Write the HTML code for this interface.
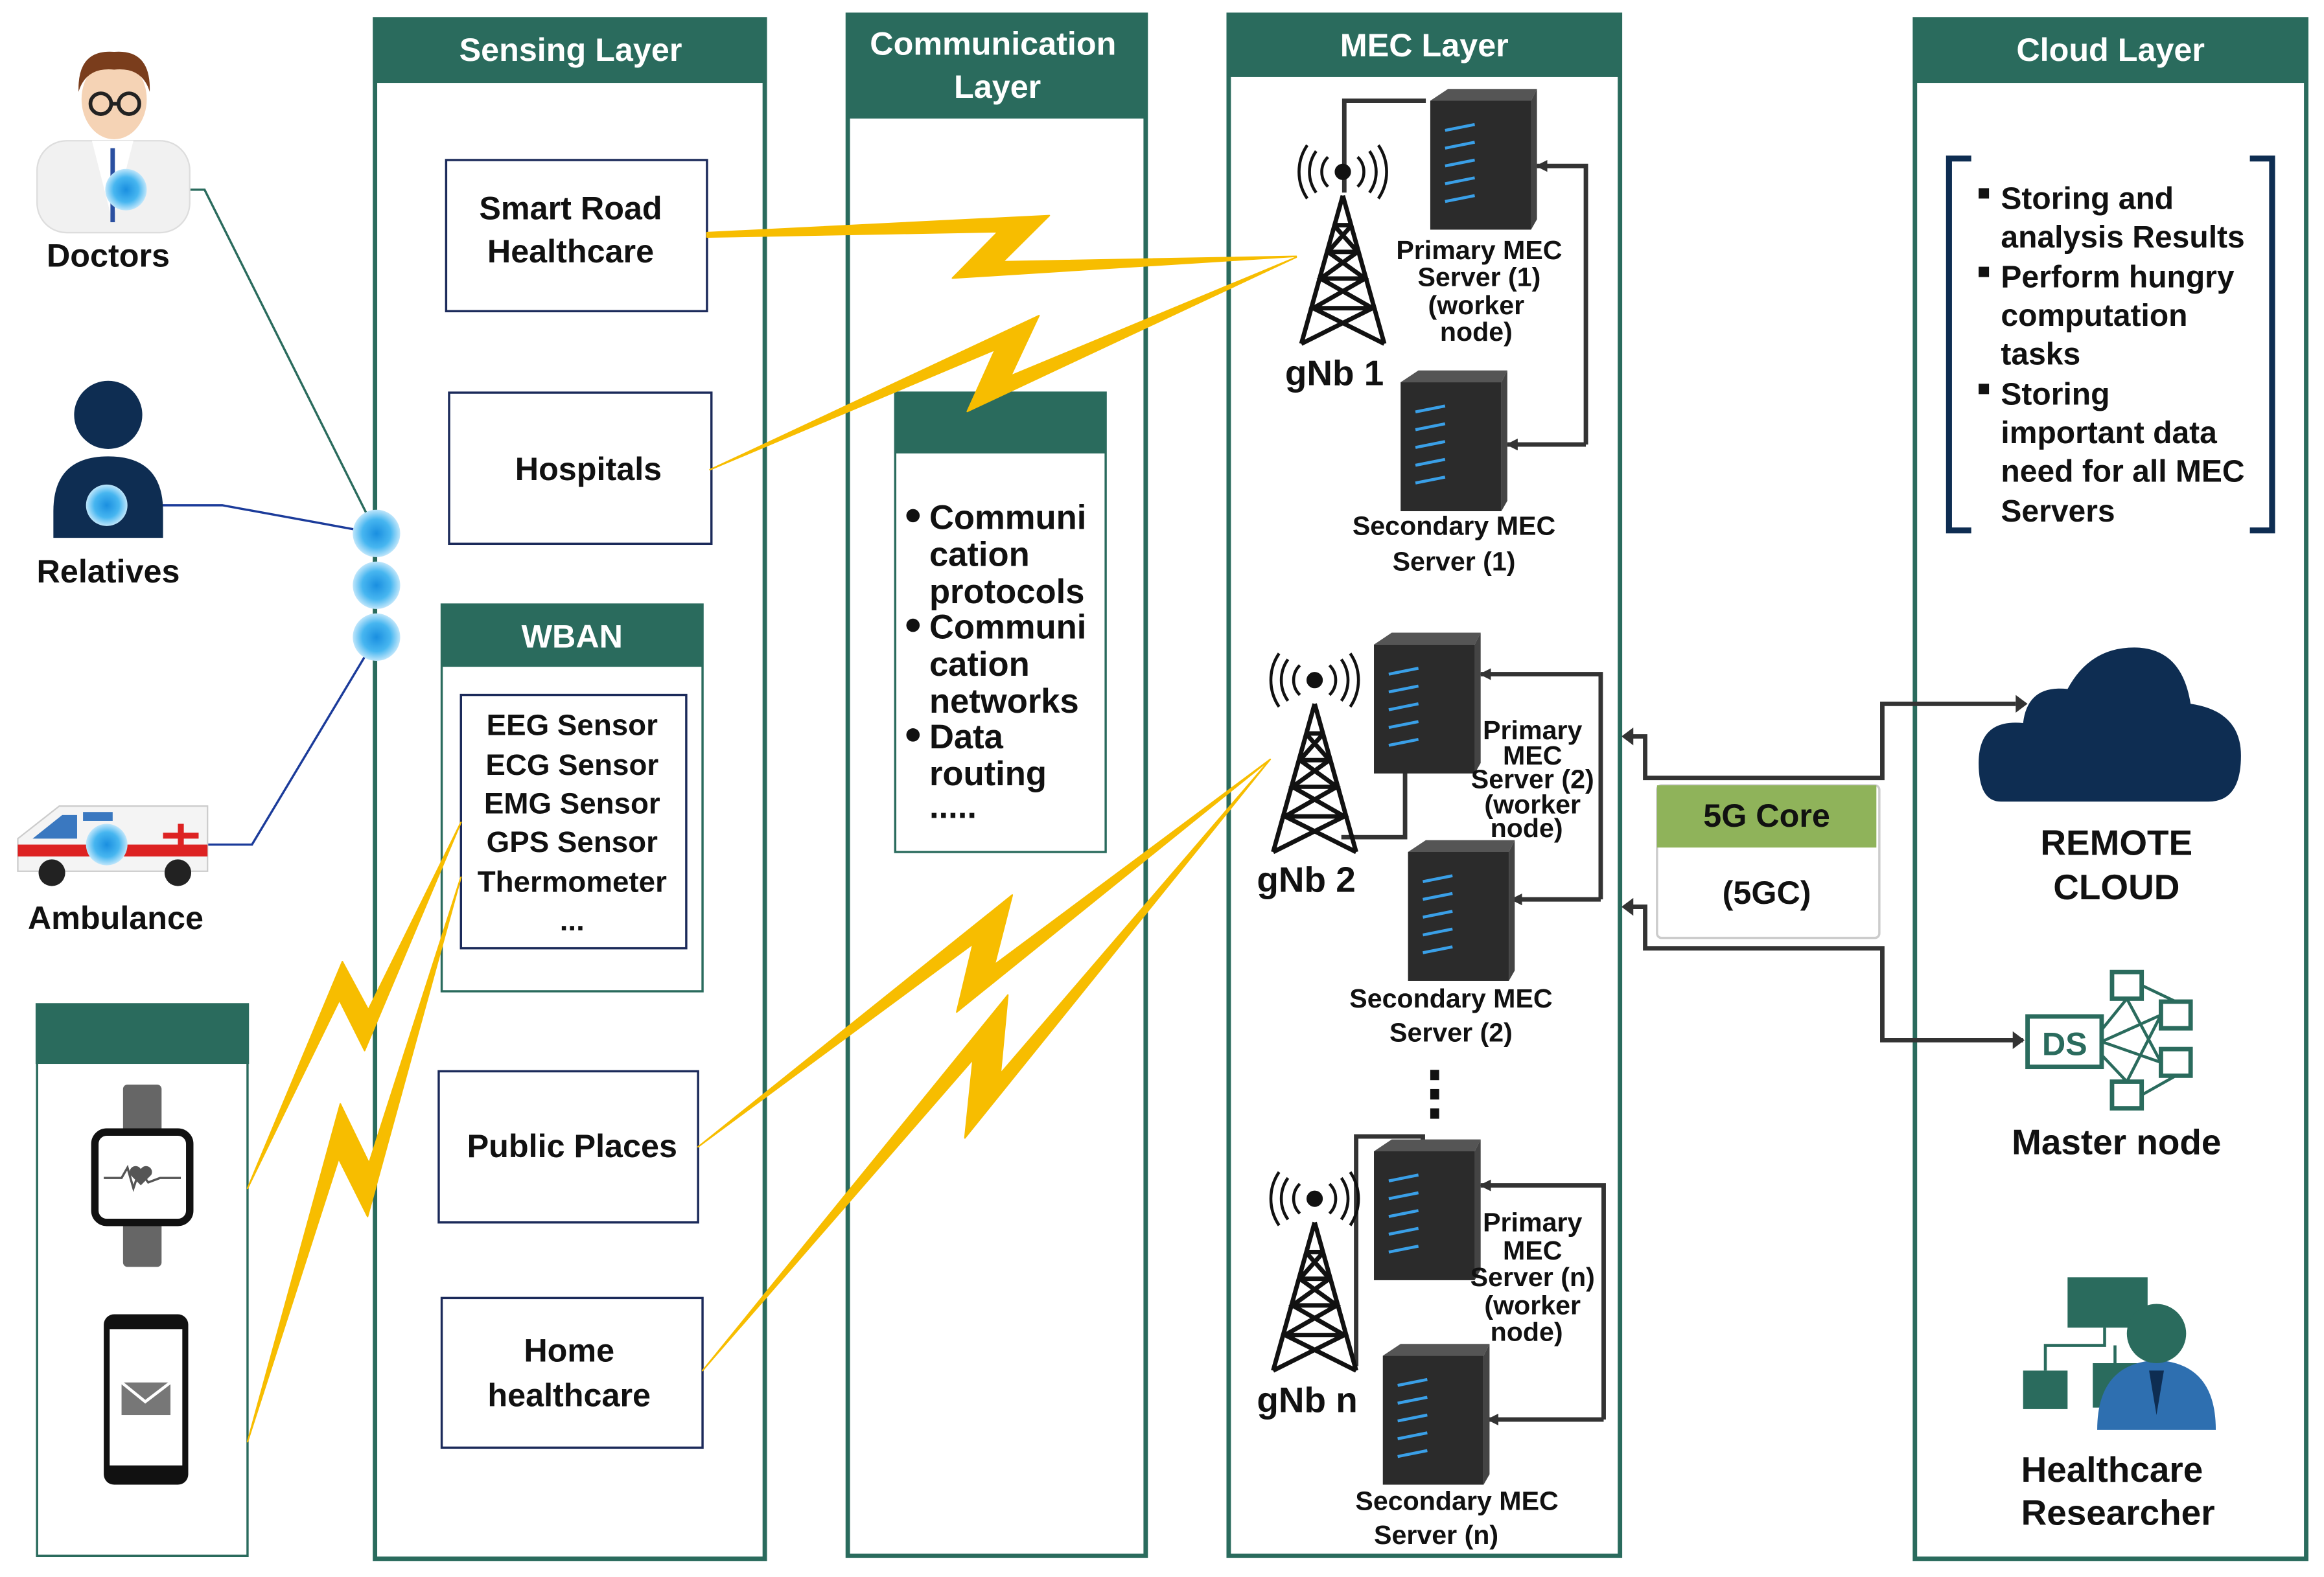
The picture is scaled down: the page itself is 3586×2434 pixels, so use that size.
<!DOCTYPE html>
<html><head><meta charset="utf-8"><style>html,body{margin:0;padding:0;background:#fff}svg{display:block}text{font-family:"Liberation Sans",sans-serif;font-weight:bold;fill:#111}</style></head><body>
<svg width="3586" height="2434" viewBox="0 0 1568 1064.3" xmlns="http://www.w3.org/2000/svg">
<defs>
<marker id="ah" markerWidth="8" markerHeight="8" refX="7" refY="4" orient="auto" markerUnits="userSpaceOnUse"><path d="M0,0 L8,4 L0,8z" fill="#333"/></marker>
<radialGradient id="glow"><stop offset="0" stop-color="#1a8fe0"/><stop offset="0.6" stop-color="#47b6f0"/><stop offset="1" stop-color="#bfe6fb"/></radialGradient>
<g id="srv"><rect x="0" y="0" width="68" height="87" fill="#2b2b2b"/><path d="M0,0 L12,-8 L72,-8 L68,0z" fill="#555"/><path d="M68,0 L72,-8 L72,80 L68,87z" fill="#444"/><g stroke="#3aa0e8" stroke-width="2"><line x1="10" y1="20" x2="30" y2="16"/><line x1="10" y1="32" x2="30" y2="28"/><line x1="10" y1="44" x2="30" y2="40"/><line x1="10" y1="56" x2="30" y2="52"/><line x1="10" y1="68" x2="30" y2="64"/></g></g>
<g id="tower" fill="none" stroke="#111" stroke-width="3"><path d="M0,0 L-28,100 M0,0 L28,100 M-6,20 L6,20 M-10,38 L10,38 M-15,56 L15,56 M-20,76 L20,76 M-6,20 L10,38 L-15,56 L20,76 L-28,100 M6,20 L-10,38 L15,56 L-20,76 L28,100"/><path d="M-10,-6 A14,14 0 0,1 -10,-26 M10,-6 A14,14 0 0,0 10,-26 M-18,-2 A24,24 0 0,1 -18,-30 M18,-2 A24,24 0 0,0 18,-30 M-24,2 A32,32 0 0,1 -24,-34 M24,2 A32,32 0 0,0 24,-34" stroke-width="2"/><circle cx="0" cy="-16" r="4" fill="#111"/></g>
</defs>
<g fill="none" stroke="#2a6b5d" stroke-width="3">
<rect x="253" y="13" width="263" height="1039"/><rect x="572" y="10" width="201" height="1040"/><rect x="829" y="10" width="264" height="1040"/><rect x="1292" y="13" width="264" height="1039"/>
<rect x="25" y="678" width="142" height="372" stroke-width="1.5"/><rect x="298" y="408" width="176" height="261" stroke-width="1.5"/><rect x="604" y="265" width="142" height="310" stroke-width="1.5"/>
</g>
<g fill="#2a6b5d"><rect x="252" y="12" width="265" height="44"/><rect x="571" y="9" width="203" height="71"/><rect x="828" y="9" width="266" height="43"/><rect x="1291" y="12" width="266" height="44"/><rect x="24" y="677" width="144" height="41"/><rect x="298" y="408" width="176" height="42"/><rect x="604" y="265" width="142" height="41"/></g>
<g font-size="22" text-anchor="middle"><text x="385" y="41" style="fill:#fff">Sensing Layer</text><text x="670" y="37" style="fill:#fff">Communication</text><text x="673" y="66" style="fill:#fff">Layer</text><text x="961" y="38" style="fill:#fff">MEC Layer</text><text x="1424" y="41" style="fill:#fff">Cloud Layer</text><text x="386" y="437" style="fill:#fff">WBAN</text></g>
<g fill="none" stroke="#1b2a5a" stroke-width="1.5"><rect x="301" y="108" width="176" height="102"/><rect x="303" y="265" width="177" height="102"/><rect x="311" y="469" width="152" height="171"/><rect x="296" y="723" width="175" height="102"/><rect x="298" y="876" width="176" height="101"/></g>
<g font-size="22" text-anchor="middle"><text x="385" y="148">Smart Road</text><text x="385" y="177">Healthcare</text><text x="397" y="324">Hospitals</text><text x="386" y="781">Public Places</text><text x="384" y="919">Home</text><text x="384" y="949">healthcare</text></g>
<g font-size="20" text-anchor="middle"><text x="386" y="496">EEG Sensor</text><text x="386" y="523">ECG Sensor</text><text x="386" y="549">EMG Sensor</text><text x="386" y="575">GPS Sensor</text><text x="386" y="602">Thermometer</text><text x="386" y="628">...</text></g>
<g font-size="23"><text x="627" y="357">Communi</text><text x="627" y="382">cation</text><text x="627" y="407">protocols</text><text x="627" y="431">Communi</text><text x="627" y="456">cation</text><text x="627" y="481">networks</text><text x="627" y="505">Data</text><text x="627" y="530">routing</text><text x="627" y="552">.....</text></g>
<g fill="#111"><circle cx="616" cy="348" r="4.5"/><circle cx="616" cy="422" r="4.5"/><circle cx="616" cy="496" r="4.5"/></g>
<!-- lightning -->
<g fill="#f7bd00" stroke="#f7bd00" stroke-width="1" stroke-linejoin="round">
<polygon points="477,157 708,145.5 676.7,176.6 874.6,173 642.6,187.7 673.4,156.4 477,160"/>
<polygon points="479,317 701,213 682,253.6 874.6,173.6 652.6,277.7 671.4,236"/>
<polygon points="471,774 683,604 671,651 857,512.5 645.5,683 656.5,637"/>
<polygon points="474,925 680,671.5 675,724.5 857,512.5 651,768 656.5,715"/>
<polygon points="167,802 231,649 248.5,681.5 311,555 246,709 229,675"/>
<polygon points="167,973 229.6,745 249,785 311,592 248,821 228.5,782"/>
</g>
<!-- left connectors -->
<g fill="none" stroke-width="1.5"><polyline points="85,128 138,128 254,360" stroke="#2a6b5d"/><polyline points="72,341 150,341 254,360" stroke="#1b3b9a"/><polyline points="72,570 170,570 254,430" stroke="#1b3b9a"/></g>
<g fill="url(#glow)"><circle cx="254" cy="360" r="16"/><circle cx="254" cy="395" r="16"/><circle cx="254" cy="430" r="16"/></g>
<!-- doctor -->
<rect x="25" y="95" width="103" height="62" rx="20" fill="#f1f1f1" stroke="#ddd"/><path d="M62,95 L76,150 L90,95z" fill="#fff"/><line x1="76" y1="100" x2="76" y2="150" stroke="#2a4fa0" stroke-width="3"/>
<ellipse cx="77" cy="67" rx="22" ry="27" fill="#f5d3b5"/><path d="M53,62 Q52,33 77,35 Q102,33 101,62 Q96,45 77,47 Q58,45 53,62z" fill="#7a3d1c"/><g fill="none" stroke="#222" stroke-width="2.5"><circle cx="68" cy="70" r="7"/><circle cx="87" cy="70" r="7"/><line x1="75" y1="70" x2="80" y2="70"/></g>
<circle cx="85" cy="128" r="14" fill="url(#glow)"/>
<text x="73" y="180" font-size="22" text-anchor="middle">Doctors</text>
<!-- relatives -->
<circle cx="73" cy="280" r="23" fill="#0e2d52"/><path d="M36,363 L36,345 Q36,308 73,308 Q110,308 110,345 L110,363z" fill="#0e2d52"/><circle cx="72" cy="341" r="14" fill="url(#glow)"/>
<text x="73" y="393" font-size="22" text-anchor="middle">Relatives</text>
<!-- ambulance -->
<path d="M12,588 L12,566 L40,544 L140,544 L140,588z" fill="#f4f4f4" stroke="#ccc"/><rect x="12" y="570" width="128" height="8" fill="#d22"/><path d="M22,566 L42,550 L52,550 L52,566z" fill="#3a78c0"/><rect x="56" y="548" width="20" height="6" fill="#3a78c0"/><path d="M110,562 h10 v-6 h4 v6 h10 v4 h-10 v6 h-4 v-6 h-10z" fill="#d22"/><circle cx="35" cy="589" r="9" fill="#222"/><circle cx="120" cy="589" r="9" fill="#222"/><circle cx="72" cy="570" r="14" fill="url(#glow)"/>
<text x="78" y="627" font-size="22" text-anchor="middle">Ambulance</text>
<!-- watch -->
<rect x="83" y="732" width="26" height="123" rx="3" fill="#666"/><rect x="64" y="764" width="64" height="61" rx="8" fill="#fff" stroke="#111" stroke-width="5"/><polyline points="70,795 82,795 86,788 90,802 94,790 100,798 108,795 122,795" fill="none" stroke="#555" stroke-width="1.5"/><path d="M95,800 l-7,-7 a4,4 0 0,1 7,-4 a4,4 0 0,1 7,4z" fill="#555"/>
<!-- phone -->
<rect x="70" y="887" width="57" height="115" rx="7" fill="#111"/><rect x="74" y="897" width="49" height="92" fill="#fff"/><rect x="82" y="933" width="33" height="22" fill="#777"/><polyline points="82,933 98,946 115,933" fill="none" stroke="#fff" stroke-width="2"/>
<!-- MEC -->
<g fill="none" stroke="#333" stroke-width="3">
<polyline points="907,130 907,68 962,68"/><polyline points="1070,300 1070,112 1037,112" marker-end="url(#ah)"/><line x1="1070" y1="300" x2="1017" y2="300" marker-end="url(#ah)"/>
<polyline points="905,565 948,565 948,520"/><polyline points="1080,607 1080,455 999,455" marker-end="url(#ah)"/><line x1="1080" y1="607" x2="1020" y2="607" marker-end="url(#ah)"/>
<polyline points="915,922 915,767 960,767 960,777"/><polyline points="1082,958 1082,800 999,800" marker-end="url(#ah)"/><line x1="1082" y1="958" x2="1004" y2="958" marker-end="url(#ah)"/>
<polyline points="1360,475 1270,475 1270,525 1110,525 1110,497 1096,497" /><polyline points="1365,702 1270,702 1270,640 1110,640 1110,612 1096,612"/>
</g>
<g fill="#333"><path d="M1360,469 L1368,475 L1360,481z"/><path d="M1358,696 L1366,702 L1358,708z"/><path d="M1102,491 L1094,497 L1102,503z"/><path d="M1102,606 L1094,612 L1102,618z"/></g>
<use href="#srv" x="965" y="68"/><use href="#srv" x="945" y="258"/><use href="#srv" x="927" y="435"/><use href="#srv" x="950" y="575"/><use href="#srv" x="927" y="777"/><use href="#srv" x="933" y="915"/>
<use href="#tower" x="906" y="132"/><use href="#tower" x="887" y="475"/><use href="#tower" x="887" y="825"/>
<g font-size="24"><text x="867" y="260">gNb 1</text><text x="848" y="602">gNb 2</text><text x="848" y="953">gNb n</text></g>
<g font-size="18" text-anchor="middle"><text x="998" y="175">Primary MEC</text><text x="998" y="193">Server (1)</text><text x="996" y="212">(worker</text><text x="996" y="230">node)</text><text x="981" y="361">Secondary MEC</text><text x="981" y="385">Server (1)</text>
<text x="1034" y="499">Primary</text><text x="1034" y="516">MEC</text><text x="1034" y="532">Server (2)</text><text x="1034" y="549">(worker</text><text x="1030" y="565">node)</text><text x="979" y="680">Secondary MEC</text><text x="979" y="703">Server (2)</text>
<text x="1034" y="831">Primary</text><text x="1034" y="850">MEC</text><text x="1034" y="868">Server (n)</text><text x="1034" y="887">(worker</text><text x="1030" y="905">node)</text><text x="983" y="1019">Secondary MEC</text><text x="969" y="1042">Server (n)</text></g>
<g fill="#111"><rect x="965" y="722" width="6" height="7"/><rect x="965" y="735" width="6" height="7"/><rect x="965" y="748" width="6" height="7"/></g>
<!-- 5G core -->
<rect x="1118" y="530" width="150" height="103" rx="3" fill="#fff" stroke="#ccc" stroke-width="1.5"/><rect x="1118" y="530" width="148" height="42" fill="#8fb35a"/>
<text x="1192" y="558" font-size="22" text-anchor="middle">5G Core</text><text x="1192" y="610" font-size="22" text-anchor="middle">(5GC)</text>
<!-- cloud layer -->
<g fill="none" stroke="#0e2d52" stroke-width="4"><polyline points="1330,107 1315,107 1315,358 1330,358"/><polyline points="1518,107 1533,107 1533,358 1518,358"/></g>
<g font-size="21"><text x="1350" y="141">Storing and</text><text x="1350" y="167">analysis Results</text><text x="1350" y="194">Perform hungry</text><text x="1350" y="220">computation</text><text x="1350" y="246">tasks</text><text x="1350" y="273">Storing</text><text x="1350" y="299">important data</text><text x="1350" y="325">need for all MEC</text><text x="1350" y="352">Servers</text></g>
<g fill="#111"><rect x="1335" y="127" width="7" height="7"/><rect x="1335" y="180" width="7" height="7"/><rect x="1335" y="259" width="7" height="7"/></g>
<path d="M1350,541 Q1335,541 1335,515 Q1335,485 1365,488 Q1368,462 1395,465 Q1410,437 1440,437 Q1472,437 1478,475 Q1512,480 1512,510 Q1512,541 1490,541z" fill="#0e2d52"/>
<g font-size="24" text-anchor="middle"><text x="1428" y="577">REMOTE</text><text x="1428" y="607">CLOUD</text><text x="1428" y="779">Master node</text><text x="1425" y="1000">Healthcare</text><text x="1429" y="1029">Researcher</text></g>
<g fill="none" stroke="#2a6b5d" stroke-width="3"><rect x="1368" y="686" width="50" height="34"/><rect x="1425" y="656" width="20" height="18"/><rect x="1458" y="676" width="20" height="18"/><rect x="1458" y="708" width="20" height="18"/><rect x="1425" y="730" width="20" height="18"/><path d="M1418,695 L1435,674 M1418,703 L1458,685 M1418,703 L1458,717 M1418,712 L1435,730 M1445,665 L1468,676 M1445,739 L1468,726 M1435,674 L1458,717 M1435,730 L1458,685" stroke-width="2"/></g>
<text x="1393" y="712" font-size="22" text-anchor="middle" style="fill:#2a6b5d">DS</text>
<rect x="1395" y="862" width="54" height="34" fill="#2a6b5d"/><rect x="1365" y="925" width="30" height="26" fill="#2a6b5d"/><rect x="1412" y="920" width="30" height="30" fill="#2a6b5d"/><path d="M1380,925 V908 H1420 V896 M1427,920 V908" fill="none" stroke="#2a6b5d" stroke-width="2"/>
<path d="M1415,965 Q1415,920 1455,918 Q1495,920 1495,965z" fill="#2e6fb0"/><circle cx="1455" cy="900" r="20" fill="#2a6b5d"/><path d="M1450,925 L1455,955 L1460,925z" fill="#0e2d52"/>
</svg>
</body></html>
